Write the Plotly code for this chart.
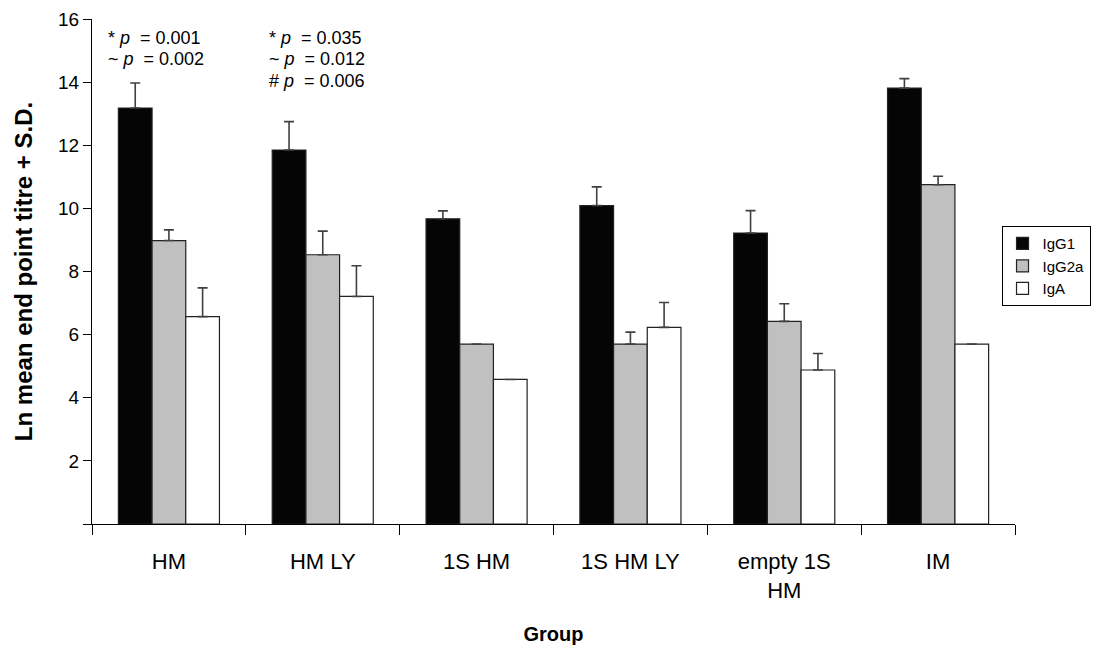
import plotly.graph_objects as go

groups = ["HM", "HM LY", "1S HM", "1S HM LY", "empty 1S<br>HM", "IM"]
igg1 = [13.18, 11.85, 9.67, 10.09, 9.22, 13.81]
igg1_sd = [0.79, 0.90, 0.25, 0.59, 0.71, 0.30]
igg2a = [8.98, 8.53, 5.70, 5.70, 6.42, 10.75]
igg2a_sd = [0.34, 0.75, None, 0.38, 0.56, 0.27]
iga = [6.57, 7.21, 4.58, 6.23, 4.88, 5.70]
iga_sd = [0.91, 0.97, None, 0.79, 0.52, None]
yticks = [0, 2, 4, 6, 8, 10, 12, 14, 16]
ytext = ["", "2", "4", "6", "8", "10", "12", "14", "16"]
pvals_hm = ["* <i>p</i>  = 0.001", "~ <i>p</i>  = 0.002"]
pvals_hmly = ["* <i>p</i>  = 0.035", "~ <i>p</i>  = 0.012", "# <i>p</i>  = 0.006"]

FONT = "Arial, Liberation Sans, sans-serif"

def errs(sd):
    return dict(type="data", symmetric=False,
                array=sd, arrayminus=[0 if v is not None else None for v in sd],
                color="#404040", thickness=1.6, width=5)

fig = go.Figure()
for name, vals, sd, col in [("IgG1", igg1, igg1_sd, "#050505"),
                            ("IgG2a", igg2a, igg2a_sd, "#C0C0C0"),
                            ("IgA", iga, iga_sd, "#FFFFFF")]:
    fig.add_trace(go.Bar(name=name, x=groups, y=vals, error_y=errs(sd),
                         marker=dict(color=col, line=dict(color="#222222", width=1.2))))

fig.update_layout(
    width=1096, height=650,
    margin=dict(l=92, r=81, t=19, b=126, autoexpand=False),
    paper_bgcolor="white", plot_bgcolor="white",
    barmode="group", bargap=0.343, bargroupgap=0,
    font=dict(family=FONT, color="black"),
    showlegend=True,
    legend=dict(xref="container", yref="container", x=0.995, y=0.652,
                xanchor="right", yanchor="top",
                bordercolor="black", borderwidth=1, bgcolor="white",
                font=dict(size=15, family=FONT), tracegroupgap=0),
)
fig.update_xaxes(
    showline=True, linecolor="black", linewidth=1,
    ticks="outside", tickson="boundaries", ticklen=10, tickcolor="black",
    tickfont=dict(size=22, family=FONT), ticklabelstandoff=18,
    title=dict(text="<b>Group</b>", font=dict(size=20, family=FONT), standoff=24),
    showgrid=False,
)
fig.update_yaxes(
    range=[0, 16], tickvals=yticks, ticktext=ytext,
    showline=True, linecolor="black", linewidth=1,
    ticks="outside", ticklen=8, tickcolor="black",
    tickfont=dict(size=19, family=FONT),
    title=dict(text="<b>Ln mean end point titre + S.D.</b>", font=dict(size=24, family=FONT), standoff=18),
    showgrid=False, zeroline=False,
)

for i, t in enumerate(pvals_hm):
    fig.add_annotation(x=-0.41, y=15.40 - i * 0.68, xref="x", yref="y", xanchor="left", yanchor="middle",
                       text=t, showarrow=False, font=dict(size=18, family=FONT))
for i, t in enumerate(pvals_hmly):
    fig.add_annotation(x=0.635, y=15.40 - i * 0.68, xref="x", yref="y", xanchor="left", yanchor="middle",
                       text=t, showarrow=False, font=dict(size=18, family=FONT))

fig.write_html("out.html")
